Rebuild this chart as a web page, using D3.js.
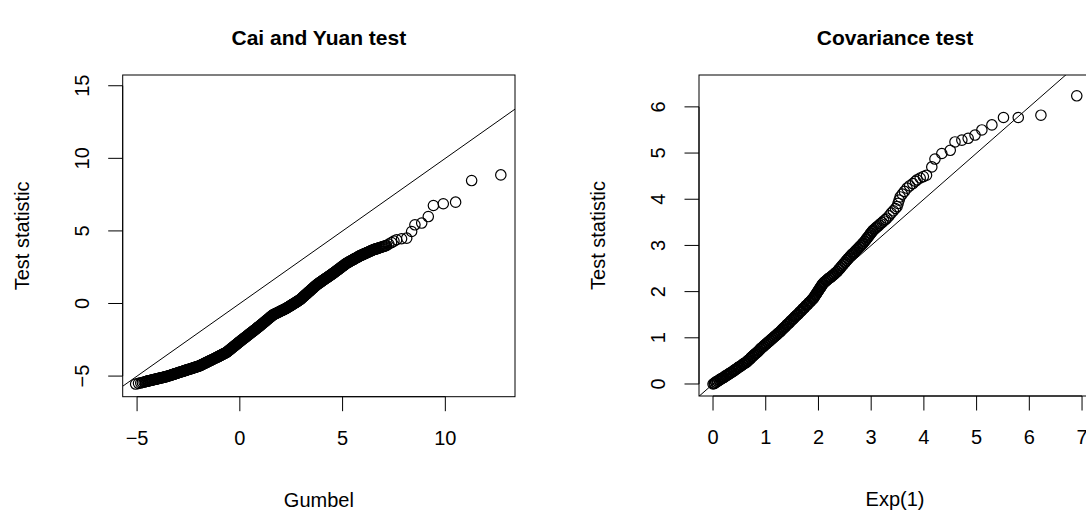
<!DOCTYPE html>
<html>
<head>
    <title>QQ plots</title>
    <script src="https://d3js.org/d3.v7.min.js"></script>
    <style>
        body { margin: 0; background: #fff; }
        text { font-family: "Liberation Sans", Arial, sans-serif; fill: #000; }
    </style>
</head>
<body>
<svg width="1086" height="519"></svg>
<script>
    // Cai and Yuan test: Gumbel quantiles vs sorted test statistic
    const caiGumbel = [
        -5.07, -4.93, -4.82, -4.74, -4.66, -4.60,
        -4.57, -4.53, -4.50, -4.46, -4.43, -4.39, -4.36, -4.32, -4.29, -4.25, -4.22, -4.18, -4.15, -4.11, -4.08,
        -4.04, -4.01, -3.97, -3.94, -3.90, -3.87, -3.83, -3.80, -3.76, -3.73, -3.69, -3.66, -3.62, -3.59,
        -3.55, -3.52, -3.48, -3.45, -3.41, -3.38, -3.34, -3.31, -3.27, -3.24, -3.20, -3.17, -3.13, -3.10, -3.06,
        -3.03, -2.99, -2.96, -2.92, -2.89, -2.85, -2.82, -2.78, -2.75, -2.71, -2.68, -2.64, -2.61, -2.57, -2.54,
        -2.50, -2.47, -2.43, -2.40, -2.36, -2.33, -2.29, -2.26, -2.22, -2.19, -2.15, -2.12, -2.08, -2.05, -2.01, -1.98,
        -1.94, -1.91, -1.87, -1.84, -1.80, -1.77, -1.73, -1.70, -1.66, -1.63, -1.59, -1.56, -1.52, -1.49, -1.45,
        -1.42, -1.38, -1.35, -1.31, -1.28, -1.24, -1.21, -1.17, -1.14, -1.10, -1.07, -1.03, -1.00, -0.96, -0.93,
        -0.89, -0.86, -0.82, -0.79, -0.75, -0.72, -0.68,
        -0.65, -0.62, -0.59, -0.56, -0.53, -0.50, -0.47, -0.44, -0.41, -0.38, -0.35, -0.32, -0.29, -0.26, -0.23,
        -0.20, -0.17, -0.14, -0.11, -0.08, -0.05, -0.02,
        0.01, 0.04, 0.07, 0.10, 0.13, 0.16, 0.19, 0.22, 0.25, 0.28, 0.31, 0.34, 0.37, 0.40, 0.43, 0.46, 0.49,
        0.52, 0.55, 0.58, 0.61, 0.64, 0.67, 0.70, 0.73, 0.76, 0.79, 0.82, 0.85, 0.88, 0.91, 0.94, 0.97,
        1.00, 1.03, 1.06, 1.09, 1.12, 1.15, 1.18, 1.21, 1.24, 1.27, 1.30, 1.33, 1.36, 1.39, 1.42, 1.45, 1.48,
        1.51, 1.54, 1.57, 1.60,
        1.63, 1.67, 1.70, 1.74, 1.77, 1.81, 1.84, 1.88, 1.91, 1.95, 1.98, 2.02, 2.05, 2.09, 2.12, 2.16, 2.19,
        2.23, 2.26,
        2.30, 2.33, 2.36, 2.39, 2.42, 2.45, 2.48, 2.51, 2.54, 2.57, 2.60, 2.63, 2.66, 2.69, 2.72, 2.75, 2.78,
        2.81, 2.84, 2.87, 2.90,
        2.93, 2.96, 2.99, 3.02, 3.05, 3.08, 3.11, 3.14, 3.17, 3.20, 3.23, 3.26, 3.29, 3.32, 3.35, 3.38, 3.41,
        3.44, 3.47, 3.50, 3.53, 3.56, 3.59, 3.62, 3.65, 3.68, 3.71, 3.74,
        3.77, 3.80, 3.83, 3.86, 3.89, 3.92, 3.95, 3.98, 4.01, 4.04, 4.07, 4.10, 4.13, 4.16, 4.19, 4.22, 4.25,
        4.28, 4.31, 4.34, 4.37, 4.40, 4.43, 4.46, 4.49, 4.52, 4.55,
        4.58, 4.61, 4.64, 4.67, 4.70, 4.73, 4.76, 4.79, 4.82, 4.85, 4.88, 4.91, 4.94, 4.97, 5.00, 5.03, 5.06,
        5.09, 5.12, 5.15, 5.18,
        5.21, 5.25, 5.28, 5.32, 5.35, 5.39, 5.42, 5.46, 5.49, 5.53, 5.56, 5.60, 5.63, 5.67, 5.70, 5.74, 5.77,
        5.81, 5.84,
        5.88, 5.91, 5.95, 5.98, 6.02, 6.05, 6.09, 6.12, 6.16, 6.19, 6.23, 6.26, 6.30, 6.33, 6.37, 6.40, 6.44, 6.47,
        6.51, 6.55, 6.59, 6.63, 6.67, 6.71, 6.75, 6.79, 6.84, 6.89, 6.94, 6.99, 7.04, 7.09, 7.14,
        7.25, 7.38, 7.50, 7.63, 7.87, 8.12, 8.36, 8.52, 8.85, 9.17, 9.42, 9.90, 10.50, 11.28, 12.70
    ];
    const caiStat = [
        -5.55, -5.50, -5.47, -5.44, -5.41, -5.39,
        -5.37, -5.36, -5.35, -5.33, -5.32, -5.31, -5.30, -5.29, -5.28, -5.26, -5.25, -5.24, -5.23, -5.22, -5.21,
        -5.19, -5.18, -5.17, -5.16, -5.14, -5.13, -5.12, -5.11, -5.10, -5.09, -5.07, -5.06, -5.05, -5.04,
        -5.02, -5.01, -4.99, -4.98, -4.96, -4.94, -4.93, -4.91, -4.89, -4.88, -4.86, -4.85, -4.83, -4.82, -4.80,
        -4.78, -4.77, -4.75, -4.73, -4.72, -4.70, -4.69, -4.67, -4.66, -4.64, -4.62, -4.61, -4.59, -4.57, -4.56,
        -4.54, -4.53, -4.51, -4.50, -4.48, -4.46, -4.45, -4.43, -4.41, -4.40, -4.38, -4.37, -4.35, -4.34, -4.32, -4.30,
        -4.28, -4.26, -4.23, -4.21, -4.18, -4.16, -4.13, -4.11, -4.09, -4.06, -4.04, -4.01, -3.99, -3.96, -3.94,
        -3.92, -3.89, -3.87, -3.84, -3.82, -3.79, -3.77, -3.74, -3.72, -3.69, -3.67, -3.64, -3.62, -3.59, -3.57,
        -3.54, -3.52, -3.49, -3.47, -3.44, -3.42, -3.39,
        -3.37, -3.34, -3.30, -3.27, -3.23, -3.20, -3.16, -3.13, -3.09, -3.06, -3.03, -2.99, -2.96, -2.92, -2.89,
        -2.85, -2.82, -2.78, -2.75, -2.71, -2.68, -2.65,
        -2.61, -2.58, -2.54, -2.51, -2.48, -2.44, -2.41, -2.38, -2.34, -2.31, -2.28, -2.24, -2.21, -2.18, -2.14, -2.11, -2.08,
        -2.04, -2.01, -1.98, -1.94, -1.91, -1.88, -1.84, -1.81, -1.78, -1.74, -1.71, -1.68, -1.64, -1.61, -1.58, -1.54,
        -1.50, -1.47, -1.43, -1.40, -1.36, -1.33, -1.29, -1.26, -1.22, -1.19, -1.15, -1.12, -1.08, -1.05, -1.01, -0.98, -0.94,
        -0.91, -0.87, -0.84, -0.80,
        -0.77, -0.74, -0.72, -0.70, -0.67, -0.65, -0.62, -0.60, -0.57, -0.55, -0.52, -0.50, -0.47, -0.45, -0.43, -0.40, -0.38,
        -0.35, -0.33,
        -0.29, -0.27, -0.24, -0.21, -0.19, -0.16, -0.14, -0.11, -0.08, -0.06, -0.03, 0.00, 0.02, 0.05, 0.08, 0.10, 0.13,
        0.16, 0.18, 0.21, 0.24,
        0.26, 0.30, 0.34, 0.38, 0.42, 0.45, 0.49, 0.53, 0.57, 0.61, 0.64, 0.68, 0.72, 0.76, 0.80, 0.83, 0.87,
        0.91, 0.95, 0.99, 1.02, 1.06, 1.10, 1.14, 1.18, 1.21, 1.25, 1.29,
        1.32, 1.35, 1.38, 1.41, 1.44, 1.47, 1.50, 1.53, 1.56, 1.59, 1.62, 1.65, 1.68, 1.71, 1.74, 1.77, 1.79,
        1.82, 1.85, 1.88, 1.91, 1.94, 1.97, 2.00, 2.03, 2.06, 2.09,
        2.12, 2.15, 2.19, 2.22, 2.25, 2.28, 2.31, 2.34, 2.38, 2.41, 2.44, 2.47, 2.50, 2.54, 2.57, 2.60, 2.63,
        2.66, 2.70, 2.73, 2.76,
        2.79, 2.82, 2.84, 2.87, 2.90, 2.93, 2.95, 2.98, 3.01, 3.04, 3.06, 3.09, 3.12, 3.15, 3.17, 3.20, 3.23,
        3.26, 3.28,
        3.31, 3.33, 3.35, 3.37, 3.40, 3.42, 3.44, 3.46, 3.49, 3.51, 3.53, 3.55, 3.58, 3.60, 3.62, 3.64, 3.67, 3.69,
        3.71, 3.73, 3.75, 3.76, 3.78, 3.80, 3.82, 3.84, 3.86, 3.88, 3.91, 3.93, 3.95, 3.98, 4.00,
        4.10, 4.20, 4.30, 4.39, 4.46, 4.50, 4.96, 5.42, 5.54, 5.99, 6.75, 6.87, 6.98, 8.47, 8.86
    ];

    // Covariance test: Exp(1) quantiles vs sorted test statistic
    const covExp = [
        0.00, 0.02, 0.03, 0.05, 0.06, 0.08, 0.09, 0.11, 0.12, 0.14, 0.15, 0.17, 0.18, 0.20, 0.21, 0.23, 0.24,
        0.26, 0.27, 0.29, 0.30,
        0.32, 0.33, 0.35, 0.36, 0.38, 0.39, 0.41, 0.42, 0.44, 0.45, 0.47, 0.48, 0.50, 0.51, 0.53, 0.54, 0.56,
        0.57, 0.59, 0.60, 0.62, 0.63,
        0.65, 0.66, 0.68, 0.69, 0.71, 0.72, 0.74, 0.75, 0.77, 0.78, 0.80, 0.81, 0.83, 0.84, 0.86, 0.87, 0.89,
        0.90, 0.92, 0.93,
        0.95, 0.96, 0.98, 0.99, 1.01, 1.02, 1.04, 1.05, 1.07, 1.08, 1.10, 1.11, 1.13, 1.14, 1.16, 1.17, 1.19,
        1.20, 1.22, 1.23, 1.25, 1.26,
        1.28, 1.29, 1.31, 1.32, 1.34, 1.35, 1.37, 1.38, 1.40, 1.41, 1.43, 1.44, 1.46, 1.47, 1.49, 1.50, 1.52,
        1.53, 1.55, 1.56, 1.58,
        1.59, 1.61, 1.62, 1.64, 1.65, 1.67, 1.68, 1.70, 1.71, 1.73, 1.74, 1.76, 1.77, 1.79, 1.80, 1.82, 1.83,
        1.85, 1.86, 1.88, 1.89,
        1.90, 1.91, 1.92, 1.93, 1.94, 1.95, 1.96, 1.97, 1.98, 1.99, 2.00, 2.01, 2.02, 2.03, 2.04, 2.05, 2.06,
        2.07, 2.08,
        2.09, 2.11, 2.12, 2.14, 2.15, 2.17, 2.18, 2.20, 2.21, 2.23, 2.24, 2.26, 2.27, 2.29, 2.30, 2.32, 2.33,
        2.35, 2.36, 2.38, 2.39, 2.41, 2.42, 2.44, 2.45, 2.47, 2.48, 2.50, 2.51, 2.53, 2.54, 2.56, 2.57, 2.59,
        2.60, 2.62, 2.63, 2.65, 2.66, 2.68, 2.69, 2.71, 2.72, 2.74, 2.75, 2.77, 2.78, 2.80, 2.81, 2.83, 2.84,
        2.85, 2.87, 2.88, 2.90, 2.91, 2.93, 2.94, 2.96, 2.97, 2.99, 3.00, 3.02, 3.03,
        3.05, 3.07, 3.09, 3.11, 3.13, 3.15, 3.18, 3.21, 3.24, 3.27, 3.30,
        3.34, 3.38, 3.42, 3.46, 3.49, 3.51, 3.53, 3.55, 3.59, 3.63, 3.68,
        3.73, 3.79, 3.84, 3.87, 3.93, 3.99, 4.05,
        4.15, 4.21, 4.34, 4.50, 4.59, 4.72, 4.84, 4.97, 5.10, 5.29, 5.51, 5.79, 6.22, 6.90
    ];
    const covStat = [
        0.00, 0.01, 0.02, 0.04, 0.04, 0.06, 0.06, 0.08, 0.09, 0.10, 0.11, 0.12, 0.13, 0.14, 0.15, 0.17, 0.17,
        0.19, 0.19, 0.21, 0.22,
        0.23, 0.24, 0.25, 0.26, 0.28, 0.28, 0.30, 0.31, 0.32, 0.33, 0.35, 0.36, 0.37, 0.38, 0.39, 0.40, 0.42,
        0.43, 0.44, 0.45, 0.46, 0.47,
        0.49, 0.50, 0.52, 0.53, 0.55, 0.57, 0.59, 0.60, 0.62, 0.63, 0.65, 0.66, 0.68, 0.69, 0.71, 0.72, 0.75,
        0.76, 0.78, 0.79,
        0.81, 0.82, 0.84, 0.85, 0.87, 0.88, 0.90, 0.91, 0.93, 0.94, 0.96, 0.97, 0.99, 1.00, 1.02, 1.03, 1.05,
        1.06, 1.08, 1.09, 1.11, 1.12,
        1.14, 1.15, 1.18, 1.19, 1.21, 1.22, 1.24, 1.25, 1.28, 1.29, 1.31, 1.32, 1.34, 1.36, 1.38, 1.39, 1.41,
        1.42, 1.45, 1.46, 1.48,
        1.49, 1.51, 1.52, 1.55, 1.56, 1.58, 1.59, 1.62, 1.63, 1.65, 1.66, 1.69, 1.70, 1.72, 1.73, 1.76, 1.77,
        1.79, 1.80, 1.83, 1.84,
        1.85, 1.87, 1.88, 1.90, 1.92, 1.94, 1.95, 1.97, 1.99, 2.01, 2.02, 2.04, 2.06, 2.08, 2.09, 2.11, 2.13,
        2.15, 2.16,
        2.18, 2.20, 2.21, 2.23, 2.24, 2.26, 2.27, 2.29, 2.30, 2.31, 2.32, 2.34, 2.35, 2.37, 2.38, 2.40, 2.41,
        2.43, 2.44, 2.47, 2.48, 2.51, 2.52, 2.55, 2.56, 2.59, 2.60, 2.63, 2.64, 2.67, 2.68, 2.71, 2.72, 2.75,
        2.76, 2.78, 2.80, 2.82, 2.83, 2.85, 2.86, 2.89, 2.90, 2.92, 2.93, 2.96, 2.97, 2.99, 3.00, 3.03, 3.04,
        3.05, 3.08, 3.09, 3.12, 3.14, 3.17, 3.18, 3.21, 3.23, 3.26, 3.27, 3.30, 3.32,
        3.34, 3.36, 3.38, 3.40, 3.42, 3.44, 3.47, 3.50, 3.53, 3.56, 3.59,
        3.64, 3.70, 3.75, 3.80, 3.84, 3.91, 3.98, 4.05, 4.11, 4.17, 4.24,
        4.29, 4.34, 4.39, 4.42, 4.46, 4.49, 4.52,
        4.70, 4.87, 4.99, 5.06, 5.24, 5.28, 5.32, 5.39, 5.50, 5.61, 5.77, 5.77, 5.82, 6.24
    ];

    const caiXTicks = [-5, 0, 5, 10];
    const caiYTicks = [-5, 0, 5, 10, 15];
    const covXTicks = [0, 1, 2, 3, 4, 5, 6, 7];
    const covYTicks = [0, 1, 2, 3, 4, 5, 6];

    const svg = d3.select("svg");
    const fmt = v => String(v).replace("-", "\u2212");
    const tickLen = 14.5;

    function qqPanel(opt) {
        const x = d3.scaleLinear().domain(opt.xDomain).range([opt.left, opt.right]);
        const y = d3.scaleLinear().domain(opt.yDomain).range([opt.bottom, opt.top]);
        const g = svg.append("g");

        const clipId = "clip" + opt.id;
        g.append("clipPath").attr("id", clipId)
            .append("rect")
            .attr("x", opt.left).attr("y", opt.top)
            .attr("width", opt.right - opt.left).attr("height", opt.bottom - opt.top);

        // reference line y = x
        const lo = opt.xDomain[0], hi = opt.xDomain[1];
        g.append("line")
            .attr("clip-path", "url(#" + clipId + ")")
            .attr("x1", x(lo)).attr("y1", y(lo))
            .attr("x2", x(hi)).attr("y2", y(hi))
            .attr("stroke", "#000").attr("stroke-width", 1);

        g.append("g").attr("clip-path", "url(#" + clipId + ")")
            .selectAll("circle")
            .data(d3.zip(opt.xs, opt.ys))
            .enter().append("circle")
            .attr("cx", d => x(d[0]))
            .attr("cy", d => y(d[1]))
            .attr("r", 5.2)
            .attr("fill", "none")
            .attr("stroke", "#000")
            .attr("stroke-width", 1.2);

        g.append("rect")
            .attr("x", opt.left).attr("y", opt.top)
            .attr("width", opt.right - opt.left).attr("height", opt.bottom - opt.top)
            .attr("fill", "none").attr("stroke", "#000").attr("stroke-width", 1);

        // bottom axis
        const xt = opt.xTicks;
        g.append("line")
            .attr("x1", x(xt[0])).attr("x2", x(xt[xt.length - 1]))
            .attr("y1", opt.bottom).attr("y2", opt.bottom)
            .attr("stroke", "#000");
        g.selectAll(".xt").data(xt).enter().append("line")
            .attr("x1", d => x(d)).attr("x2", d => x(d))
            .attr("y1", opt.bottom).attr("y2", opt.bottom + tickLen)
            .attr("stroke", "#000");
        g.selectAll(".xl").data(xt).enter().append("text")
            .attr("x", d => x(d)).attr("y", opt.bottom + 48)
            .attr("text-anchor", "middle")
            .style("font-size", "20px")
            .text(fmt);

        // left axis
        const yt = opt.yTicks;
        g.append("line")
            .attr("y1", y(yt[0])).attr("y2", y(yt[yt.length - 1]))
            .attr("x1", opt.left).attr("x2", opt.left)
            .attr("stroke", "#000");
        g.selectAll(".yt").data(yt).enter().append("line")
            .attr("y1", d => y(d)).attr("y2", d => y(d))
            .attr("x1", opt.left).attr("x2", opt.left - tickLen)
            .attr("stroke", "#000");
        g.selectAll(".yl").data(yt).enter().append("text")
            .attr("transform", d => "translate(" + (opt.left - 34) + "," + y(d) + ") rotate(-90)")
            .attr("text-anchor", "middle")
            .style("font-size", "20px")
            .text(fmt);

        g.append("text")
            .attr("x", (opt.left + opt.right) / 2).attr("y", opt.bottom + 110)
            .attr("text-anchor", "middle")
            .style("font-size", "20px")
            .text(opt.xLabel);
        g.append("text")
            .attr("transform", "translate(" + (opt.left - 94) + "," + (opt.top + opt.bottom) / 2 + ") rotate(-90)")
            .attr("text-anchor", "middle")
            .style("font-size", "20px")
            .text(opt.yLabel);
        // main title centred in the top margin
        g.append("text")
            .attr("x", (opt.left + opt.right) / 2).attr("y", opt.top / 2)
            .attr("dy", "0.36em")
            .attr("text-anchor", "middle")
            .style("font-size", "21px")
            .style("font-weight", "bold")
            .text(opt.title);
    }

    qqPanel({
        id: 1, title: "Cai and Yuan test", xLabel: "Gumbel", yLabel: "Test statistic",
        xs: caiGumbel, ys: caiStat,
        xDomain: [-5.70, 13.39], yDomain: [-6.42, 15.74],
        left: 122.7, right: 515, top: 75, bottom: 396.7,
        xTicks: caiXTicks, yTicks: caiYTicks
    });

    qqPanel({
        id: 2, title: "Covariance test", xLabel: "Exp(1)", yLabel: "Test statistic",
        xs: covExp, ys: covStat,
        xDomain: [-0.266, 7.17], yDomain: [-0.26, 6.69],
        left: 699, right: 1091, top: 75, bottom: 396,
        xTicks: covXTicks, yTicks: covYTicks
    });
</script>
</body>
</html>
